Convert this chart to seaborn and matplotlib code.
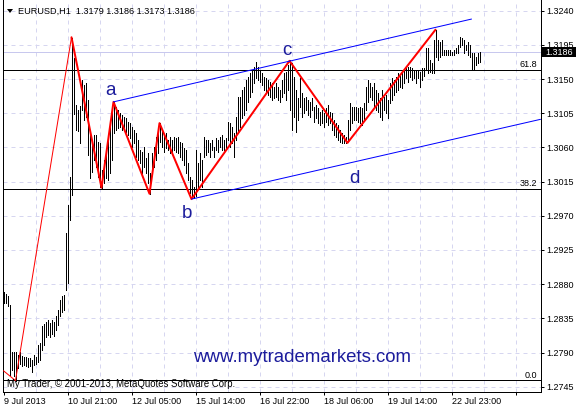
import matplotlib
matplotlib.use("Agg")
import matplotlib.pyplot as plt
import seaborn as sns
from matplotlib.patches import Rectangle, Polygon

# ---------------- data ----------------
symbol_title = "EURUSD,H1  1.3179 1.3186 1.3173 1.3186"

highs = [
    1.2870, 1.2867, 1.2864, 1.2853, 1.2791, 1.2791, 1.2791, 1.2787, 1.2791, 1.2785,
    1.2784, 1.2784, 1.2783, 1.2783, 1.2780, 1.2787, 1.2784, 1.2800, 1.2803, 1.2825,
    1.2828, 1.2830, 1.2833, 1.2829, 1.2833, 1.2830, 1.2838, 1.2846, 1.2859, 1.2864,
    1.2866, 1.2947, 1.2984, 1.3021, 1.3204, 1.3178, 1.3116, 1.3109, 1.3115, 1.3149,
    1.3142, 1.3145, 1.3122, 1.3080, 1.3066, 1.3076, 1.3076, 1.3067, 1.3066, 1.3030,
    1.3043, 1.3059, 1.3074, 1.3087, 1.3105, 1.3120, 1.3113, 1.3109, 1.3105, 1.3103,
    1.3100, 1.3099, 1.3093, 1.3092, 1.3087, 1.3083, 1.3079, 1.3070, 1.3057, 1.3054,
    1.3061, 1.3046, 1.3053, 1.3026, 1.3053, 1.3061, 1.3074, 1.3087, 1.3092, 1.3083,
    1.3076, 1.3079, 1.3070, 1.3074, 1.3070, 1.3074, 1.3072, 1.3074, 1.3067, 1.3066,
    1.3059, 1.3057, 1.3040, 1.3021, 1.3017, 1.3008, 1.3057, 1.3040, 1.3053, 1.3043,
    1.3074, 1.3070, 1.3070, 1.3066, 1.3070, 1.3061, 1.3072, 1.3070, 1.3074, 1.3076,
    1.3070, 1.3072, 1.3093, 1.3092, 1.3087, 1.3079, 1.3100, 1.3126, 1.3126, 1.3136,
    1.3140, 1.3149, 1.3153, 1.3158, 1.3162, 1.3166, 1.3172, 1.3166, 1.3162, 1.3158,
    1.3153, 1.3151, 1.3149, 1.3146, 1.3145, 1.3140, 1.3145, 1.3140, 1.3136, 1.3149,
    1.3158, 1.3159, 1.3169, 1.3175, 1.3171, 1.3153, 1.3136, 1.3125, 1.3151, 1.3132,
    1.3125, 1.3126, 1.3122, 1.3120, 1.3125, 1.3113, 1.3116, 1.3112, 1.3107, 1.3109,
    1.3105, 1.3112, 1.3116, 1.3107, 1.3105, 1.3096, 1.3092, 1.3090, 1.3083, 1.3079,
    1.3076, 1.3074, 1.3096, 1.3118, 1.3113, 1.3113, 1.3113, 1.3112, 1.3113, 1.3112,
    1.3118, 1.3140, 1.3149, 1.3145, 1.3140, 1.3145, 1.3136, 1.3132, 1.3125, 1.3136,
    1.3126, 1.3129, 1.3122, 1.3145, 1.3151, 1.3149, 1.3153, 1.3158, 1.3154, 1.3158,
    1.3162, 1.3166, 1.3166, 1.3166, 1.3165, 1.3162, 1.3162, 1.3162, 1.3159, 1.3165,
    1.3165, 1.3191, 1.3191, 1.3175, 1.3171, 1.3201, 1.3215, 1.3201, 1.3199, 1.3201,
    1.3188, 1.3188, 1.3188, 1.3188, 1.3186, 1.3188, 1.3191, 1.3195, 1.3205, 1.3204,
    1.3201, 1.3195, 1.3199, 1.3195, 1.3184, 1.3184, 1.3179, 1.3184, 1.3186,
]

lows = [
    1.2855, 1.2855, 1.2851, 1.2760, 1.2767, 1.2759, 1.2753, 1.2770, 1.2775, 1.2772,
    1.2774, 1.2772, 1.2771, 1.2772, 1.2764, 1.2774, 1.2775, 1.2778, 1.2780, 1.2793,
    1.2800, 1.2810, 1.2813, 1.2810, 1.2814, 1.2812, 1.2820, 1.2826, 1.2838, 1.2843,
    1.2846, 1.2872, 1.2882, 1.2964, 1.2997, 1.3104, 1.3083, 1.3082, 1.3066, 1.3109,
    1.3096, 1.3100, 1.3050, 1.3020, 1.3028, 1.3043, 1.3034, 1.3021, 1.3008, 1.3007,
    1.3013, 1.3020, 1.3017, 1.3026, 1.3043, 1.3079, 1.3083, 1.3086, 1.3087, 1.3083,
    1.3087, 1.3080, 1.3076, 1.3072, 1.3061, 1.3066, 1.3047, 1.3043, 1.3040, 1.3026,
    1.3034, 1.3026, 1.3013, 1.2999, 1.3030, 1.3034, 1.3043, 1.3053, 1.3067, 1.3061,
    1.3054, 1.3059, 1.3057, 1.3053, 1.3054, 1.3057, 1.3054, 1.3053, 1.3047, 1.3043,
    1.3037, 1.3026, 1.3017, 1.3000, 1.2995, 1.2993, 1.2996, 1.3008, 1.3017, 1.3008,
    1.3047, 1.3050, 1.3054, 1.3047, 1.3057, 1.3047, 1.3057, 1.3054, 1.3061, 1.3057,
    1.3057, 1.3059, 1.3070, 1.3061, 1.3066, 1.3047, 1.3070, 1.3079, 1.3087, 1.3099,
    1.3103, 1.3109, 1.3120, 1.3126, 1.3133, 1.3145, 1.3151, 1.3149, 1.3146, 1.3142,
    1.3136, 1.3132, 1.3129, 1.3126, 1.3122, 1.3125, 1.3126, 1.3122, 1.3120, 1.3126,
    1.3132, 1.3122, 1.3136, 1.3109, 1.3083, 1.3100, 1.3080, 1.3096, 1.3113, 1.3100,
    1.3105, 1.3109, 1.3103, 1.3100, 1.3109, 1.3093, 1.3099, 1.3092, 1.3090, 1.3092,
    1.3087, 1.3093, 1.3090, 1.3092, 1.3083, 1.3076, 1.3074, 1.3070, 1.3067, 1.3066,
    1.3066, 1.3066, 1.3070, 1.3083, 1.3092, 1.3096, 1.3096, 1.3093, 1.3092, 1.3090,
    1.3096, 1.3109, 1.3120, 1.3126, 1.3122, 1.3113, 1.3109, 1.3107, 1.3100, 1.3096,
    1.3109, 1.3105, 1.3099, 1.3118, 1.3122, 1.3129, 1.3133, 1.3136, 1.3140, 1.3138,
    1.3145, 1.3151, 1.3146, 1.3153, 1.3149, 1.3151, 1.3145, 1.3151, 1.3140, 1.3149,
    1.3154, 1.3162, 1.3158, 1.3159, 1.3158, 1.3158, 1.3179, 1.3175, 1.3179, 1.3182,
    1.3182, 1.3182, 1.3182, 1.3182, 1.3182, 1.3182, 1.3184, 1.3184, 1.3192, 1.3195,
    1.3184, 1.3188, 1.3182, 1.3179, 1.3162, 1.3162, 1.3169, 1.3171, 1.3173,
]

# zigzag (bar index, price)
zz_thin_idx = [0, 6, 34]
zz_thin_px = [1.2766, 1.2753, 1.3205]
zz_idx = [34, 49, 55, 73, 78, 94, 143, 172, 216]
zz_px = [1.3205, 1.3007, 1.3120, 1.2999, 1.3092, 1.2992, 1.3174, 1.3066, 1.3215]

# channel lines
upper_idx = [55, 234]
upper_px = [1.3120, 1.3229]
lower_idx = [94, 268.5]
lower_px = [1.2992, 1.3097]

# wave labels
wave_labels = ["a", "b", "c", "d"]
wave_idx = [53.4, 91.6, 141.6, 175.5]
wave_px = [1.31290, 1.29667, 1.31817, 1.30136]

# fibonacci levels
fib_levels = [1.31619, 1.30053, 1.27534]
fib_labels = ["61.8", "38.2", "0.0"]

current_price = 1.3186

price_ticks = [1.2745, 1.2790, 1.2835, 1.2880, 1.2925, 1.2970, 1.3015,
               1.3060, 1.3105, 1.3150, 1.3195, 1.3240]
time_tick_idx = [0, 32, 64, 96, 128, 160, 192, 224, 256]
time_tick_labels = ["9 Jul 2013", "10 Jul 21:00", "12 Jul 05:00", "15 Jul 14:00",
                    "16 Jul 22:00", "18 Jul 06:00", "19 Jul 14:00", "22 Jul 23:00", ""]
grid_idx = [16, 32, 48, 64, 80, 96, 112, 128, 144, 160, 176, 192, 208, 224, 240, 256]

# ---------------- figure ----------------
sns.set_theme(style="white")
plt.rcParams["font.family"] = ["Liberation Sans", "DejaVu Sans"]

W, H = 580, 409
PX = 0.72  # one pixel in points at dpi 100
fig = plt.figure(figsize=(W / 100, H / 100), dpi=100)
fig.patch.set_facecolor("white")
ax = fig.add_axes([2.5 / W, (H - 391.5) / H, 538 / W, 391.5 / H])
ax.set_facecolor("white")

ytop = 1.32541
ax.set_ylim(ytop - 391.5 / 7596.0, ytop)
ax.set_xlim(-0.5, 268.5)

grid_col = "#d6d6f0"
for p in price_ticks:
    ax.axhline(p, color=grid_col, lw=PX, ls=(0, (4, 4)), zorder=0)
for g in grid_idx:
    ax.axvline(g, color=grid_col, lw=PX, ls=(0, (4, 4)), zorder=0)

ax.axhline(current_price, color="#c8c8ee", lw=PX, zorder=0.5)

for lv, lb in zip(fib_levels, fib_labels):
    ax.axhline(lv, color="black", lw=PX, zorder=1)
    ax.annotate(lb, xy=(267, lv), xytext=(0, 2.0), textcoords="offset points",
                ha="right", va="baseline", fontsize=6.5, color="black")

idx = list(range(len(highs)))
ax.vlines(idx, lows, highs, color="black", lw=PX, antialiased=False, zorder=2)

sns.lineplot(x=zz_thin_idx, y=zz_thin_px, sort=False, color="red", lw=PX,
             ax=ax, zorder=3, legend=False)
sns.lineplot(x=zz_idx, y=zz_px, sort=False, color="red", lw=2 * PX,
             ax=ax, zorder=3, legend=False)
sns.lineplot(x=upper_idx, y=upper_px, sort=False, color="blue", lw=PX,
             ax=ax, zorder=3, legend=False)
sns.lineplot(x=lower_idx, y=lower_px, sort=False, color="blue", lw=PX,
             ax=ax, zorder=3, legend=False)

navy = "#1c1c9c"
for lb, xi, yp in zip(wave_labels, wave_idx, wave_px):
    ax.text(xi, yp, lb, ha="center", va="baseline", fontsize=13.5, color=navy, zorder=4)

# spines
for s in ["left", "bottom", "right"]:
    ax.spines[s].set_visible(True)
    ax.spines[s].set_color("black")
    ax.spines[s].set_linewidth(PX)
ax.spines["top"].set_visible(False)

ax.yaxis.tick_right()
ax.set_yticks(price_ticks)
ax.set_yticklabels([f"{p:.4f}" for p in price_ticks])
ax.tick_params(axis="y", which="major", right=True, left=False, labelright=True,
               labelleft=False, direction="out", length=3 * PX, width=PX,
               pad=2.2, labelsize=6.5, colors="black")
ax.set_xticks(time_tick_idx)
ax.set_xticklabels(time_tick_labels)
ax.tick_params(axis="x", which="major", bottom=True, direction="out",
               length=3 * PX, width=PX, pad=1.8, labelsize=6.5, colors="black")
for t in ax.get_xticklabels():
    t.set_ha("left")
ax.set_xlabel("")
ax.set_ylabel("")

# current price box on the price scale
fig.patches.append(Rectangle((541.5 / W, 1 - 57 / H), 34 / W, 10 / H,
                             transform=fig.transFigure, fc="black", ec="none", zorder=5))
fig.text(545.5 / W, 1 - 55.3 / H, "1.3186", color="white", fontsize=6.5,
         va="baseline", ha="left", zorder=6)

# title
fig.patches.append(Polygon([[7 / W, 1 - 9 / H], [13 / W, 1 - 9 / H], [10 / W, 1 - 13 / H]],
                           closed=True, transform=fig.transFigure, fc="black", ec="none"))
fig.text(18.3 / W, 1 - 14 / H, symbol_title, fontsize=6.6, va="baseline",
         ha="left", color="black")

# watermark and copyright
fig.text(302 / W, 1 - 361.5 / H, "www.mytrademarkets.com", ha="center",
         va="baseline", fontsize=13.4, color=navy)
fig.text(7.3 / W, 1 - 386.7 / H, "My Trader, \u00a9 2001-2013, MetaQuotes Software Corp.",
         fontsize=6.9, va="baseline", ha="left", color="black")

fig.savefig("out.png", dpi=100)
